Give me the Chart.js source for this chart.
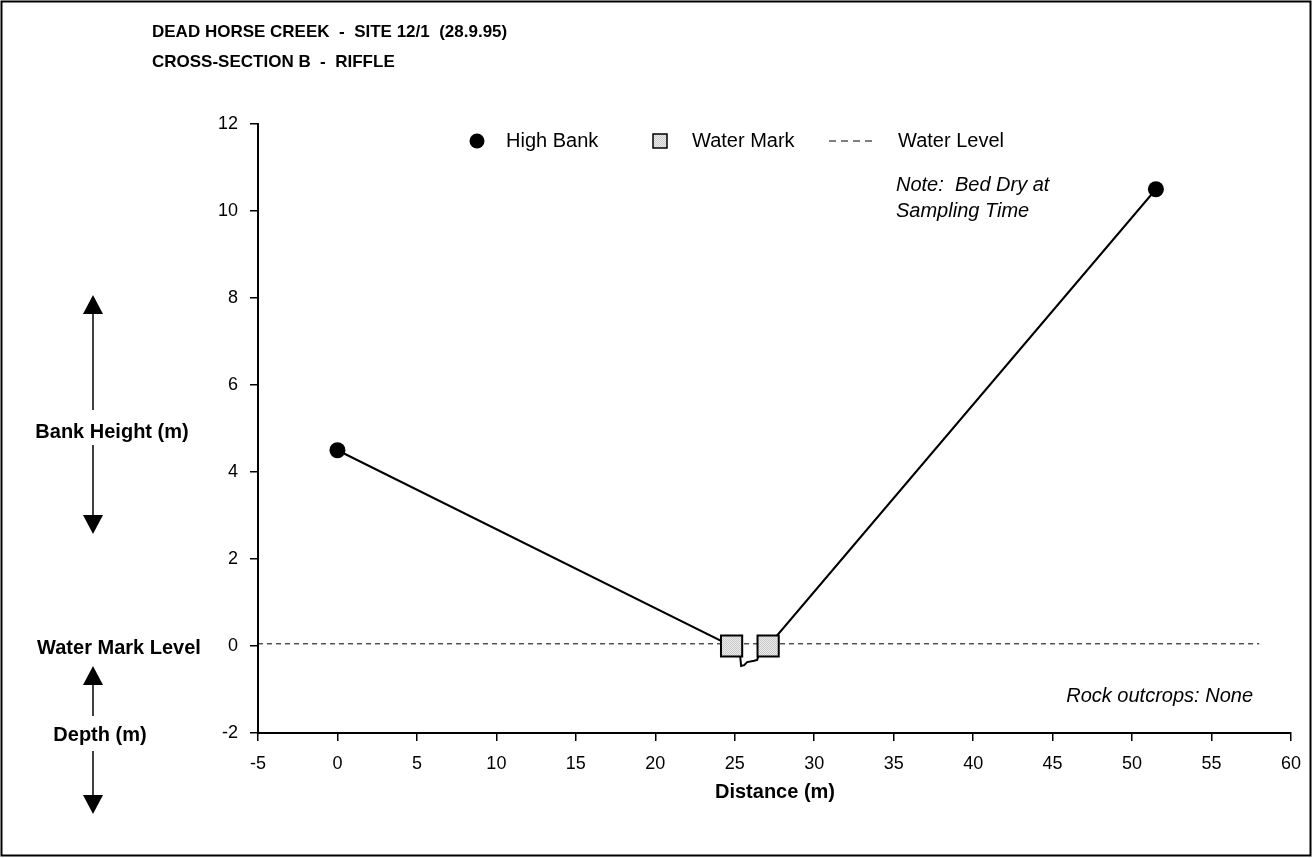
<!DOCTYPE html>
<html><head><meta charset="utf-8">
<script src="https://cdn.jsdelivr.net/npm/chart.js@4.4.0/dist/chart.umd.min.js"></script>
<style>html,body{margin:0;padding:0;background:#fff}#wrap{width:1313px;height:858px;position:relative}</style>
</head><body><div id="wrap"><canvas id="c" width="1313" height="858"></canvas></div>
<script>
const titleLines = ["DEAD HORSE CREEK  -  SITE 12/1  (28.9.95)", "CROSS-SECTION B  -  RIFFLE"];
const profileX = [0, 24.8, 25.34, 25.4, 25.59, 25.78, 26.22, 26.41, 26.47, 27.1, 51.5];
const profileY = [4.5, 0.0, -0.23, -0.46, -0.44, -0.37, -0.34, -0.32, -0.25, 0.0, 10.5];
const highBankX = [0, 51.5];
const highBankY = [4.5, 10.5];
const waterMarkX = [24.8, 27.1];
const waterMarkY = [0, 0];
const waterLevelX = [-5, 58];
const waterLevelY = [0.05, 0.05];
const xTicks = {min: -5, max: 60, step: 5};
const yTicks = {min: -2, max: 12, step: 2};
const legendLabels = ["High Bank", "Water Mark", "Water Level"];
const noteLines = ["Note:  Bed Dry at", "Sampling Time"];
const rockNote = "Rock outcrops: None";
const xTitle = "Distance (m)";
const sideLabels = ["Bank Height (m)", "Water Mark Level", "Depth (m)"];

const zip = (xs, ys) => xs.map((x, i) => ({x, y: ys[i]}));
const FONT = "'Liberation Sans', Arial, sans-serif";

function makeStipple() {
  const p = document.createElement('canvas');
  p.width = 2; p.height = 2;
  const c = p.getContext('2d');
  c.fillStyle = '#ececec'; c.fillRect(0, 0, 2, 2);
  c.fillStyle = '#c8c8c8'; c.fillRect(0, 0, 1, 1); c.fillRect(1, 1, 1, 1);
  return document.getElementById('c').getContext('2d').createPattern(p, 'repeat');
}
const WM_FILL = makeStipple();

function arrowHead(ctx, x, tipY, baseY) {
  ctx.beginPath();
  ctx.moveTo(x, tipY);
  ctx.lineTo(x - 10, baseY);
  ctx.lineTo(x + 10, baseY);
  ctx.closePath();
  ctx.fill();
}
function vline(ctx, x, y1, y2) {
  ctx.beginPath(); ctx.moveTo(x, y1); ctx.lineTo(x, y2); ctx.stroke();
}

const decor = {
  id: 'decor',
  afterDraw(chart) {
    const ctx = chart.ctx;
    ctx.save();
    ctx.strokeStyle = '#000'; ctx.lineWidth = 2;
    ctx.strokeRect(1.5, 1.5, 1309, 854);
    ctx.fillStyle = '#000';
    ctx.font = "bold 17px " + FONT;
    ctx.textAlign = 'left'; ctx.textBaseline = 'middle';
    ctx.fillText(titleLines[0], 152, 32);
    ctx.fillText(titleLines[1], 152, 62);
    const ly = 141;
    ctx.font = "20px " + FONT;
    ctx.beginPath(); ctx.arc(477, ly, 7.5, 0, Math.PI * 2); ctx.fill();
    ctx.fillText(legendLabels[0], 506, ly);
    ctx.fillStyle = WM_FILL; ctx.fillRect(653, ly - 7, 14, 14);
    ctx.lineWidth = 1.5; ctx.strokeStyle = '#000'; ctx.strokeRect(653, ly - 7, 14, 14);
    ctx.fillStyle = '#000';
    ctx.fillText(legendLabels[1], 692, ly);
    ctx.setLineDash([7, 5]); ctx.lineWidth = 1.2;
    ctx.beginPath(); ctx.moveTo(829, ly); ctx.lineTo(872, ly); ctx.stroke();
    ctx.setLineDash([]);
    ctx.fillText(legendLabels[2], 898, ly);
    ctx.font = "italic 20px " + FONT;
    ctx.fillText(noteLines[0], 896, 185);
    ctx.fillText(noteLines[1], 896, 211);
    ctx.textAlign = 'right';
    ctx.fillText(rockNote, 1253, 696);
    ctx.textAlign = 'center';
    ctx.font = "bold 20px " + FONT;
    ctx.fillText(xTitle, 775, 792);
    ctx.fillText(sideLabels[0], 112, 432);
    ctx.fillText(sideLabels[1], 119, 648);
    ctx.fillText(sideLabels[2], 100, 735);
    ctx.lineWidth = 1.5;
    const ax = 93;
    arrowHead(ctx, ax, 295, 314); vline(ctx, ax, 312, 410);
    vline(ctx, ax, 445, 516); arrowHead(ctx, ax, 534, 515);
    arrowHead(ctx, ax, 666, 685); vline(ctx, ax, 683, 716);
    vline(ctx, ax, 751, 796); arrowHead(ctx, ax, 814, 795);
    ctx.restore();
  }
};

new Chart(document.getElementById('c'), {
  type: 'scatter',
  data: {
    datasets: [
      {label: legendLabels[0], data: zip(highBankX, highBankY), pointStyle: 'circle', pointRadius: 8,
       backgroundColor: '#000', borderColor: '#000', borderWidth: 0, showLine: false, order: 1},
      {label: legendLabels[1], data: zip(waterMarkX, waterMarkY), pointStyle: 'rect', pointRadius: 15,
       backgroundColor: WM_FILL, borderColor: '#000', borderWidth: 2, showLine: false, order: 2},
      {label: 'Profile', data: zip(profileX, profileY), showLine: true, pointRadius: 0,
       borderColor: '#000', borderWidth: 2, tension: 0, order: 3},
      {label: legendLabels[2], data: zip(waterLevelX, waterLevelY), showLine: true, pointRadius: 0,
       borderColor: '#000', borderWidth: 1, borderDash: [5, 4], order: 4}
    ]
  },
  options: {
    responsive: false, animation: false, devicePixelRatio: 1,
    layout: {padding: {left: 0, right: 20, top: 124, bottom: 0}},
    plugins: {legend: {display: false}, tooltip: {enabled: false}, title: {display: false}},
    scales: {
      x: {
        type: 'linear', min: xTicks.min, max: xTicks.max,
        ticks: {stepSize: xTicks.step, color: '#000', font: {family: FONT, size: 18}, padding: 12, maxRotation: 0},
        grid: {drawOnChartArea: false, drawTicks: true, tickLength: 8, color: '#000', lineWidth: 1.5},
        border: {display: true, color: '#000', width: 2},
        afterFit: s => { s.height = 125; }
      },
      y: {
        type: 'linear', min: yTicks.min, max: yTicks.max,
        ticks: {stepSize: yTicks.step, color: '#000', font: {family: FONT, size: 18}, padding: 12},
        grid: {drawOnChartArea: false, drawTicks: true, tickLength: 8, color: '#000', lineWidth: 1.5},
        border: {display: true, color: '#000', width: 2},
        afterFit: s => { s.width = 258; }
      }
    }
  },
  plugins: [decor]
});
</script></body></html>
